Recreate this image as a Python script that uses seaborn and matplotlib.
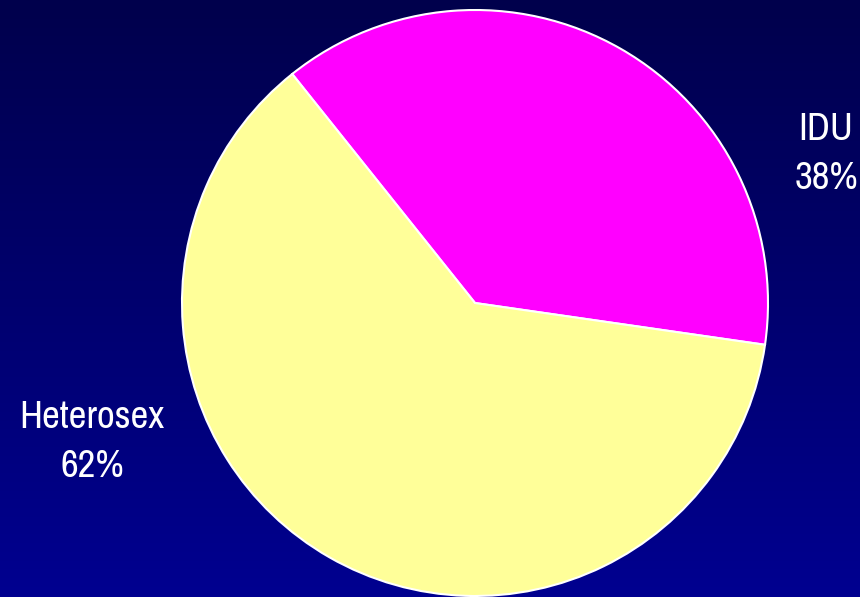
import matplotlib
matplotlib.use("Agg")
import matplotlib.pyplot as plt
from matplotlib.colors import LinearSegmentedColormap
import numpy as np
import seaborn as sns

labels = ["IDU", "Heterosex"]
shares = [38, 62]
colors = ["#ff00ff", "#ffff99"]

sns.set_theme(style="white")
plt.rcParams["font.family"] = ["Archivo Narrow", "Liberation Sans", "DejaVu Sans"]

fig = plt.figure(figsize=(8.6, 5.97), dpi=100)
ax = fig.add_axes([0, 0, 1, 1])

# vertical gradient background
xlim = (-475 / 293, 385 / 293)
ylim = (-294 / 293, 303 / 293)
grad = np.linspace(0, 1, 256).reshape(-1, 1)
cmap = LinearSegmentedColormap.from_list("bg", ["#000090", "#00004c"])
ax.imshow(grad, cmap=cmap, aspect="auto", origin="lower",
          extent=[xlim[0], xlim[1], ylim[0], ylim[1]], zorder=0)

ax.pie(shares, colors=colors, startangle=-8.2, counterclock=True,
       radius=1, wedgeprops=dict(edgecolor="white", linewidth=1.5, zorder=2))

ax.set_xlim(xlim)
ax.set_ylim(ylim)
ax.set_aspect("auto")
ax.axis("off")

ax.text(1.198, 0.509, f"{labels[0]}\n{shares[0]}%", color="white", fontsize=28,
        ha="center", va="center", linespacing=1.5)
ax.text(-1.307, -0.474, f"{labels[1]}\n{shares[1]}%", color="white", fontsize=28,
        ha="center", va="center", linespacing=1.5)

fig.savefig("out.png", dpi=100)
